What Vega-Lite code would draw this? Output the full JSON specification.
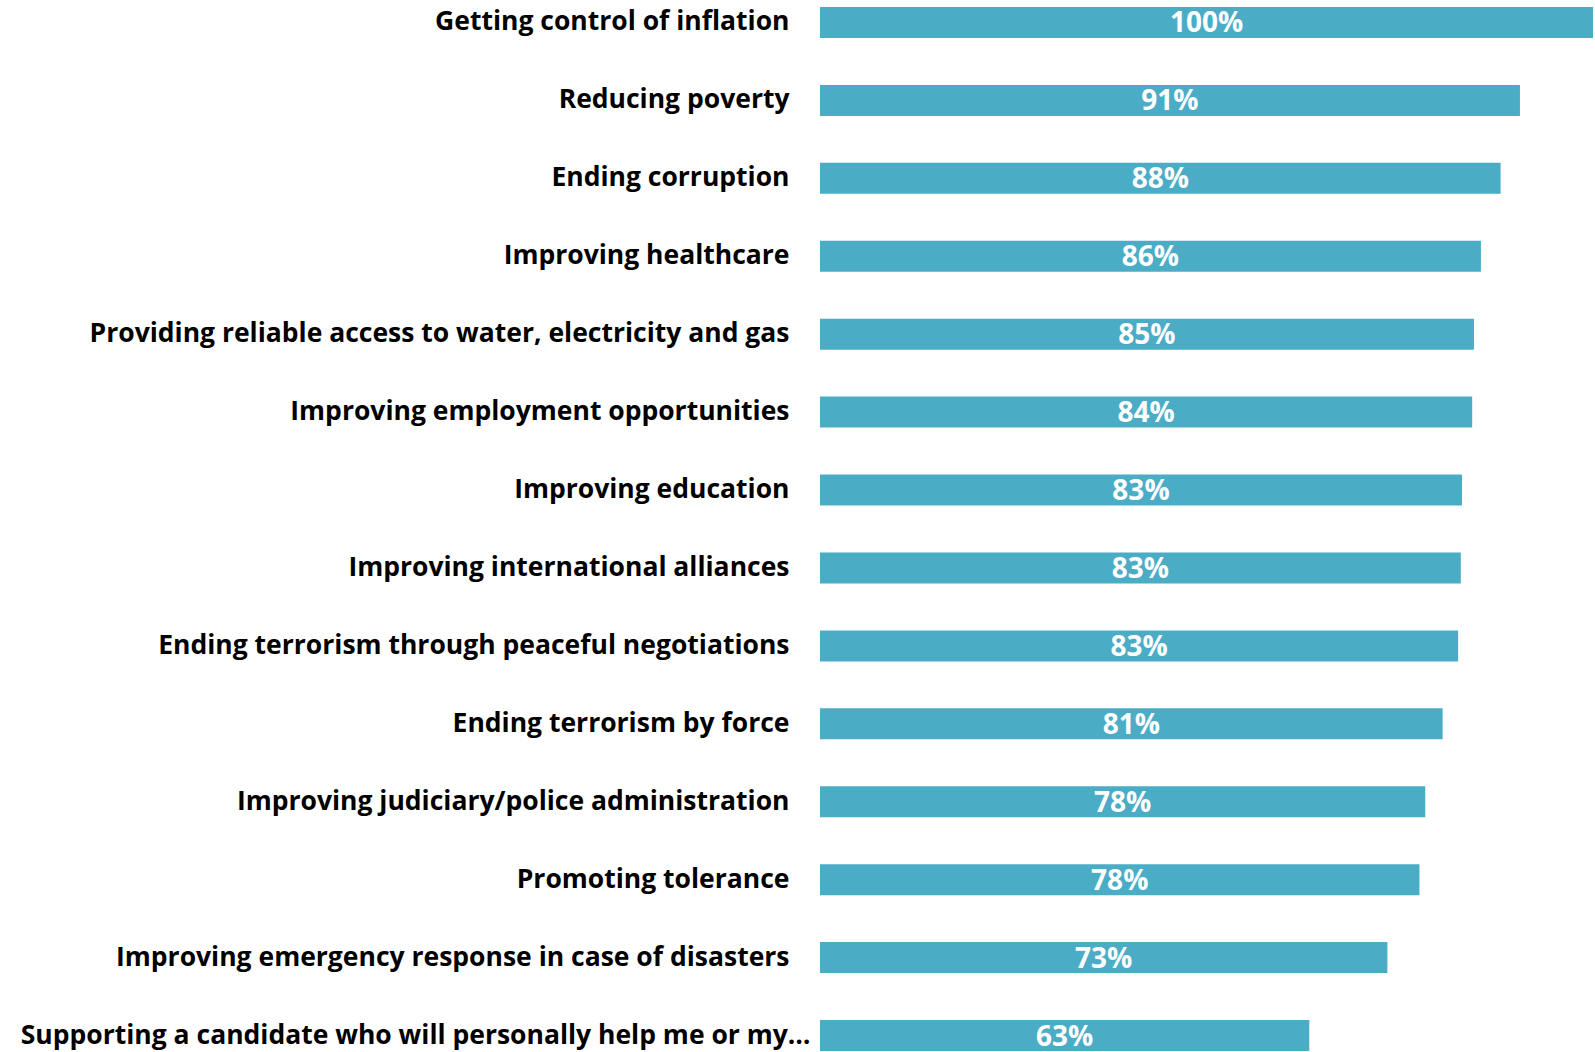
{
  "$schema": "https://vega.github.io/schema/vega-lite/v6.json",
  "autosize": {"type": "none"},
  "padding": {"left": 820, "top": 1, "right": 0, "bottom": 0},
  "width": 773,
  "height": 1056,
  "background": "white",
  "config": {"view": {"stroke": null}},
  "data": {
    "values": [
      {"item": "Getting control of inflation", "v": 1.0},
      {"item": "Reducing poverty", "v": 0.9055},
      {"item": "Ending corruption", "v": 0.8805},
      {"item": "Improving healthcare", "v": 0.855},
      {"item": "Providing reliable access to water, electricity and gas", "v": 0.846},
      {"item": "Improving employment opportunities", "v": 0.8437},
      {"item": "Improving education", "v": 0.8305},
      {"item": "Improving international alliances", "v": 0.829},
      {"item": "Ending terrorism through peaceful negotiations", "v": 0.8255},
      {"item": "Ending terrorism by force", "v": 0.8055},
      {"item": "Improving judiciary/police administration", "v": 0.783},
      {"item": "Promoting tolerance", "v": 0.7755},
      {"item": "Improving emergency response in case of disasters", "v": 0.734},
      {"item": "Supporting a candidate who will personally help me or my…", "v": 0.633}
    ]
  },
  "encoding": {
    "y": {
      "field": "item",
      "type": "nominal",
      "sort": null,
      "scale": {"paddingInner": 0.6023, "paddingOuter": 0.077},
      "axis": {
        "title": null,
        "domain": false,
        "ticks": false,
        "labelFont": "Open Sans",
        "labelFontWeight": "bold",
        "labelFontSize": 26.5,
        "labelColor": "#000000",
        "labelLimit": 1000,
        "labelPadding": {"condition": {"test": "indexof(datum.value, 'Supporting') == 0", "value": 10}, "value": 31}
      }
    }
  },
  "layer": [
    {
      "mark": {"type": "bar", "color": "#4BACC6"},
      "encoding": {
        "x": {"field": "v", "type": "quantitative", "scale": {"domain": [0, 1]}, "axis": null}
      }
    },
    {
      "transform": [{"calculate": "datum.v / 2", "as": "mid"}],
      "mark": {"type": "text", "color": "white", "font": "Open Sans", "fontWeight": "bold", "fontSize": 28, "align": "center", "baseline": "middle", "dy": 2},
      "encoding": {
        "x": {"field": "mid", "type": "quantitative", "scale": {"domain": [0, 1]}},
        "text": {"field": "v", "type": "quantitative", "format": ".0%"}
      }
    }
  ]
}
